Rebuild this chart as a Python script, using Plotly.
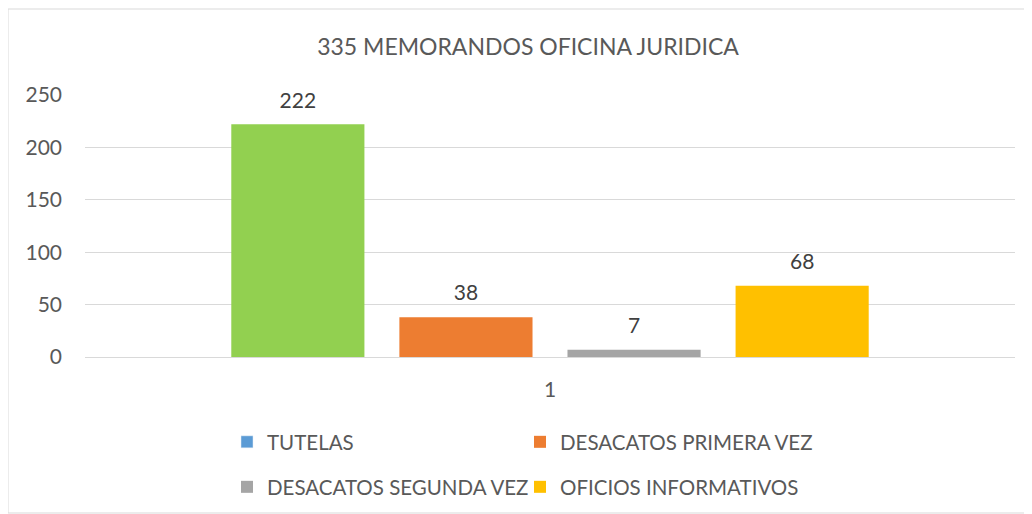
import plotly.graph_objects as go

categories = ["1"]
series_names = ["TUTELAS", "DESACATOS PRIMERA VEZ", "DESACATOS SEGUNDA VEZ", "OFICIOS INFORMATIVOS"]
series_values = [[222], [38], [7], [68]]
bar_colors = ["#92D050", "#ED7D31", "#A5A5A5", "#FFC000"]
legend_colors = ["#5B9BD5", "#ED7D31", "#A5A5A5", "#FFC000"]
y_ticks = [0, 50, 100, 150, 200, 250]

FONT = "Lato"
TXT = "#595959"
FS = 21

# page has an 8px body margin: figure drawn at (8,8) in the window
OFF = 8
W, H = 1032 - OFF, 514 - OFF
PL, PR = 85 - OFF, 1015 - OFF       # plot area left/right (fig px)
PT, PB = 95 - OFF, 357 - OFF        # plot area top/bottom (fig px)
PW, PH = PR - PL, PB - PT


def px_x(x):
    return (x - OFF - PL) / PW


def px_y(y):
    return (PB - (y - OFF)) / PH


fig = go.Figure()
legend_ids = ["legend", "legend2", "legend3", "legend4"]

for i, name in enumerate(series_names):
    own_legend = bar_colors[i] == legend_colors[i]
    if not own_legend:
        # legend-only entry on a hidden axis so it doesn't take a bar slot
        fig.add_trace(go.Bar(
            x=categories, y=[None], name=name,
            marker=dict(color=legend_colors[i]),
            xaxis="x2", yaxis="y2", legend=legend_ids[i],
            showlegend=True, hoverinfo="skip",
        ))
    fig.add_trace(go.Bar(
        x=categories, y=series_values[i], name=name,
        marker=dict(color=bar_colors[i], line=dict(width=0)),
        texttemplate="<span style='font-size:%dpx'>%%{y}</span><br><span style='color:rgba(0,0,0,0)'>.</span>" % FS,
        textposition="outside",
        textfont=dict(size=9, color="#404040", family=FONT),
        cliponaxis=False,
        showlegend=own_legend, legend=legend_ids[i],
        hoverinfo="skip",
    ))

leg_common = dict(orientation="h", xanchor="left", yanchor="middle",
                  font=dict(size=20.5, color=TXT, family=FONT), itemwidth=30,
                  bgcolor="rgba(0,0,0,0)")
col_x = [227, 520]
row_y = [442, 487]

fig.update_layout(
    width=W, height=H,
    margin=dict(l=PL, r=W - PR, t=PT, b=H - PB, autoexpand=False),
    paper_bgcolor="white", plot_bgcolor="white",
    barmode="group", bargap=0.277, bargroupgap=0.208,
    font=dict(family=FONT, color=TXT, size=FS),
    title=dict(text="335 MEMORANDOS OFICINA JURIDICA", x=(528 - OFF) / W, y=1 - (47 - OFF) / H,
               xanchor="center", yanchor="middle",
               font=dict(size=23, color=TXT, family=FONT)),
    xaxis=dict(type="category", showgrid=False, showline=True, linecolor="#D9D9D9",
               linewidth=1, ticks="", tickfont=dict(size=FS, color=TXT),
               ticklabelstandoff=14, fixedrange=True, automargin=False),
    yaxis=dict(range=[0, 250], tickvals=y_ticks, showgrid=True, gridcolor="#D9D9D9",
               gridwidth=1, zeroline=False, showline=False, ticks="",
               tickfont=dict(size=FS, color=TXT), ticklabelstandoff=22, fixedrange=True,
               automargin=False),
    xaxis2=dict(type="category", overlaying="x", visible=False),
    yaxis2=dict(overlaying="y", visible=False, range=[0, 250]),
    legend=dict(x=px_x(col_x[0]), y=px_y(row_y[0]), **leg_common),
    legend2=dict(x=px_x(col_x[1]), y=px_y(row_y[0]), **leg_common),
    legend3=dict(x=px_x(col_x[0]), y=px_y(row_y[1]), **leg_common),
    legend4=dict(x=px_x(col_x[1]), y=px_y(row_y[1]), **leg_common),
    shapes=[dict(type="rect", xref="paper", yref="paper",
                 x0=px_x(8), x1=px_x(1031), y0=px_y(513), y1=px_y(9),
                 line=dict(color="#D9D9D9", width=1), fillcolor="rgba(0,0,0,0)", layer="below")],
)

fig.write_html("out.html")
